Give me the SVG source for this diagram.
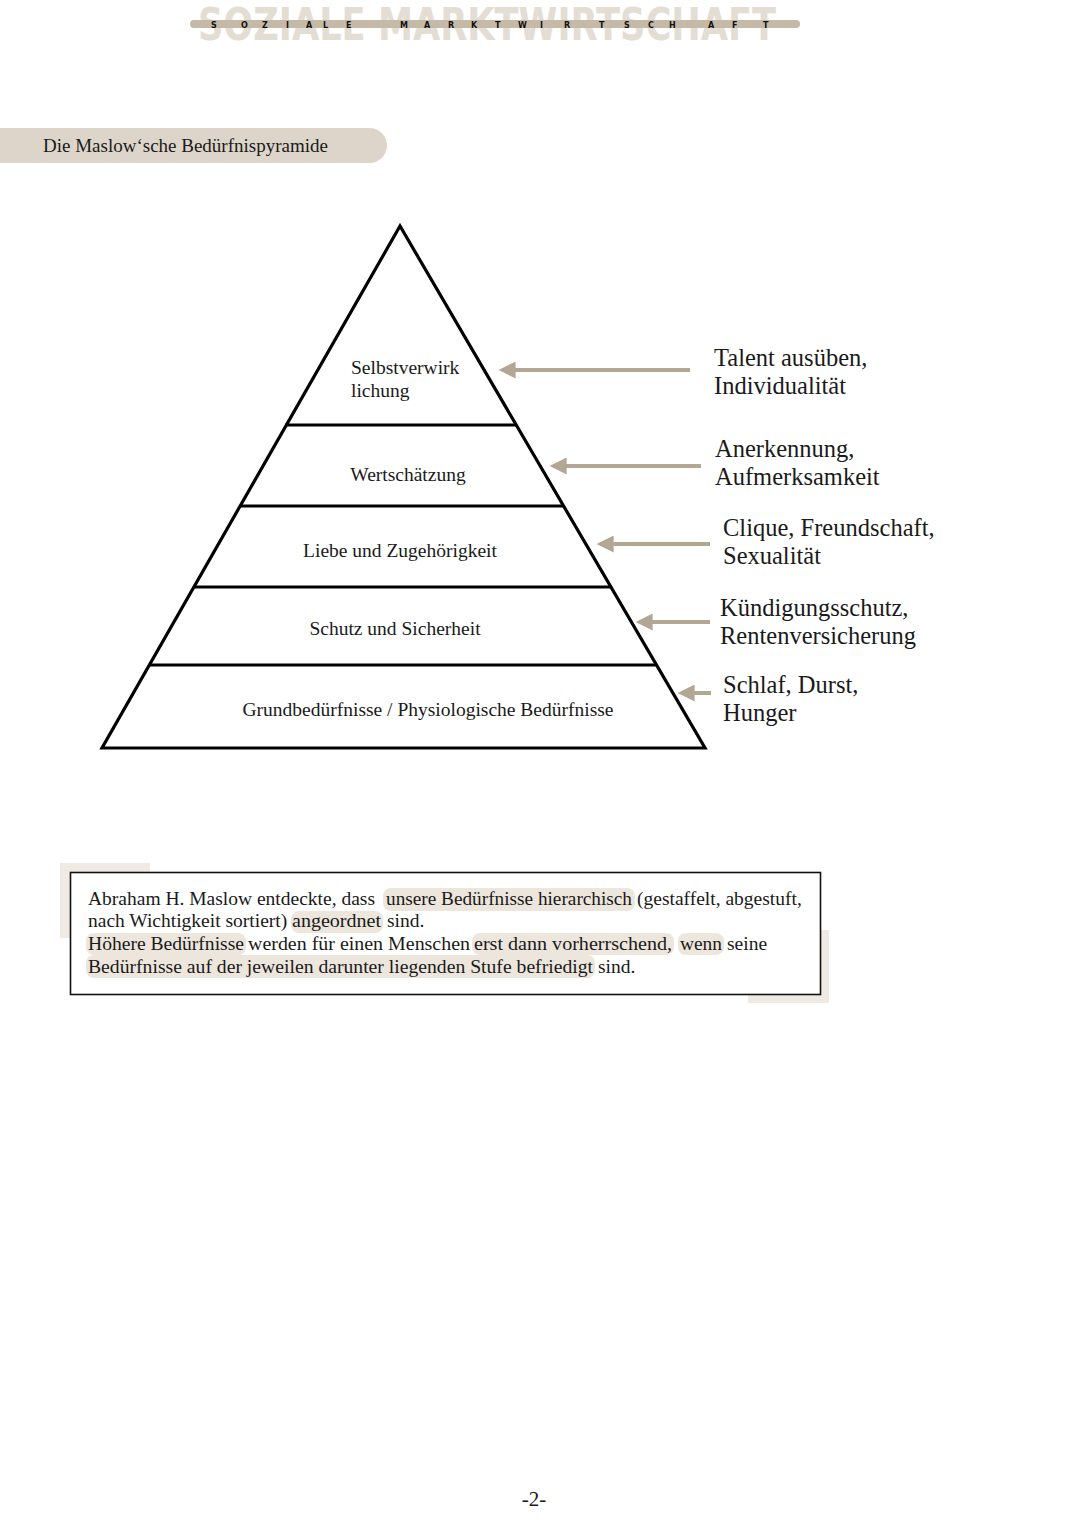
<svg xmlns="http://www.w3.org/2000/svg" width="1080" height="1527" viewBox="0 0 1080 1527">
<style>
.serif{font-family:"Liberation Serif","Times New Roman",serif;fill:#1a1a1a}
.lvl{font-size:19.5px}
.lbl{font-size:24.5px}
.box{font-size:19.5px}
.edge{stroke:#000;stroke-width:3.2;fill:none;stroke-linejoin:miter}
.arrow{stroke:#b3a695;stroke-width:4;fill:none}
.hl{fill:#ece6dd}
.tape{fill:#efeae3}
</style>
<defs>
<marker id="ah" viewBox="0 0 10 10" refX="8" refY="5" markerWidth="20" markerHeight="17" markerUnits="userSpaceOnUse" orient="auto">
<path d="M10,5 L0,0 L0,10 Z" fill="#b3a695"/>
</marker>
</defs>
<rect width="1080" height="1527" fill="#fff"/>

<g id="header">
<text x="198" y="40" font-family="'DejaVu Sans',sans-serif" font-weight="bold" font-size="44" fill="#e3ddd4" textLength="578" lengthAdjust="spacingAndGlyphs">SOZIALE MARKTWIRTSCHAFT</text>
<rect x="190" y="20" width="610" height="8" rx="4" fill="#c5b9a8"/>
<text x="211 241 262 286 306 323 346 400 424 448 471 495 518 540 564 599 624 648 669 708 732 763" y="27.5" font-family="'DejaVu Sans',sans-serif" font-weight="bold" font-size="8" fill="#111">SOZIALEMARKTWIRTSCHAFT</text>
</g>

<g id="title">
<rect x="-20" y="128" width="407" height="35" rx="17.5" fill="#ddd5ca"/>
<text class="serif" x="43" y="152" font-size="19">Die Maslow‘sche Bedürfnispyramide</text>
</g>

<g id="pyramid">
<path class="edge" d="M400,226 L102,748 L705,748 Z"/>
<line class="edge" x1="285" y1="425" x2="517" y2="425"/>
<line class="edge" x1="240" y1="506" x2="563" y2="506"/>
<line class="edge" x1="194" y1="587" x2="610" y2="587"/>
<line class="edge" x1="149" y1="665" x2="656" y2="665"/>
</g>

<g id="level-selbstverwirklichung">
<text class="serif lvl" x="351" y="374">Selbstverwirk</text>
<text class="serif lvl" x="351" y="397">lichung</text>
</g>
<g id="level-wertschaetzung">
<text class="serif lvl" x="408" y="481" text-anchor="middle">Wertschätzung</text>
</g>
<g id="level-liebe">
<text class="serif lvl" x="400" y="557" text-anchor="middle">Liebe und Zugehörigkeit</text>
</g>
<g id="level-schutz">
<text class="serif lvl" x="395" y="635" text-anchor="middle">Schutz und Sicherheit</text>
</g>
<g id="level-grund">
<text class="serif lvl" x="428" y="716" text-anchor="middle">Grundbedürfnisse / Physiologische Bedürfnisse</text>
</g>

<g id="connectors">
<line class="arrow" x1="690" y1="370" x2="502" y2="370" marker-end="url(#ah)"/>
<line class="arrow" x1="701" y1="466" x2="553" y2="466" marker-end="url(#ah)"/>
<line class="arrow" x1="710" y1="544" x2="600" y2="544" marker-end="url(#ah)"/>
<line class="arrow" x1="710" y1="622" x2="639" y2="622" marker-end="url(#ah)"/>
<line class="arrow" x1="711" y1="693" x2="681" y2="693" marker-end="url(#ah)"/>
</g>

<g id="label-talent">
<text class="serif lbl" x="714" y="366">Talent ausüben,</text>
<text class="serif lbl" x="714" y="394">Individualität</text>
</g>
<g id="label-anerkennung">
<text class="serif lbl" x="715" y="457">Anerkennung,</text>
<text class="serif lbl" x="715" y="485">Aufmerksamkeit</text>
</g>
<g id="label-clique">
<text class="serif lbl" x="723" y="536">Clique, Freundschaft,</text>
<text class="serif lbl" x="723" y="564">Sexualität</text>
</g>
<g id="label-kuendigung">
<text class="serif lbl" x="720" y="616">Kündigungsschutz,</text>
<text class="serif lbl" x="720" y="644">Rentenversicherung</text>
</g>
<g id="label-schlaf">
<text class="serif lbl" x="723" y="693">Schlaf, Durst,</text>
<text class="serif lbl" x="723" y="721">Hunger</text>
</g>

<g id="textbox">
<rect class="tape" x="60" y="863" width="90" height="9"/>
<rect class="tape" x="60" y="863" width="10" height="75"/>
<rect class="tape" x="820" y="930" width="9" height="73"/>
<rect class="tape" x="748" y="995" width="81" height="8"/>
<rect x="70.5" y="872.5" width="750" height="122" fill="#fff" stroke="#111" stroke-width="1.6"/>
<rect class="hl" x="383" y="888" width="252" height="23" rx="8"/>
<rect class="hl" x="291" y="911" width="92" height="22" rx="8"/>
<rect class="hl" x="86" y="933" width="160" height="22" rx="8"/>
<rect class="hl" x="472" y="933" width="202" height="22" rx="8"/>
<rect class="hl" x="678" y="933" width="46" height="22" rx="8"/>
<rect class="hl" x="86" y="955" width="509" height="23" rx="8"/>
<text class="serif box" x="88" y="905">Abraham H. Maslow entdeckte, dass</text>
<text class="serif box" x="386" y="905" textLength="246" lengthAdjust="spacingAndGlyphs">unsere Bedürfnisse hierarchisch</text>
<text class="serif box" x="637" y="905">(gestaffelt, abgestuft,</text>
<text class="serif box" x="88" y="927">nach Wichtigkeit sortiert)</text>
<text class="serif box" x="292" y="927" textLength="89" lengthAdjust="spacingAndGlyphs">angeordnet</text>
<text class="serif box" x="387" y="927">sind.</text>
<text class="serif box" x="88" y="950" textLength="156" lengthAdjust="spacingAndGlyphs">Höhere Bedürfnisse</text>
<text class="serif box" x="248" y="950" textLength="222" lengthAdjust="spacingAndGlyphs">werden für einen Menschen</text>
<text class="serif box" x="474" y="950" textLength="198" lengthAdjust="spacingAndGlyphs">erst dann vorherrschend,</text>
<text class="serif box" x="680" y="950" textLength="42" lengthAdjust="spacingAndGlyphs">wenn</text>
<text class="serif box" x="727" y="950">seine</text>
<text class="serif box" x="88" y="973" textLength="505" lengthAdjust="spacingAndGlyphs">Bedürfnisse auf der jeweilen darunter liegenden Stufe befriedigt</text>
<text class="serif box" x="598" y="973">sind.</text>
</g>

<g id="page-number">
<text class="serif" x="534" y="1506" font-size="21" text-anchor="middle">-2-</text>
</g>
</svg>
